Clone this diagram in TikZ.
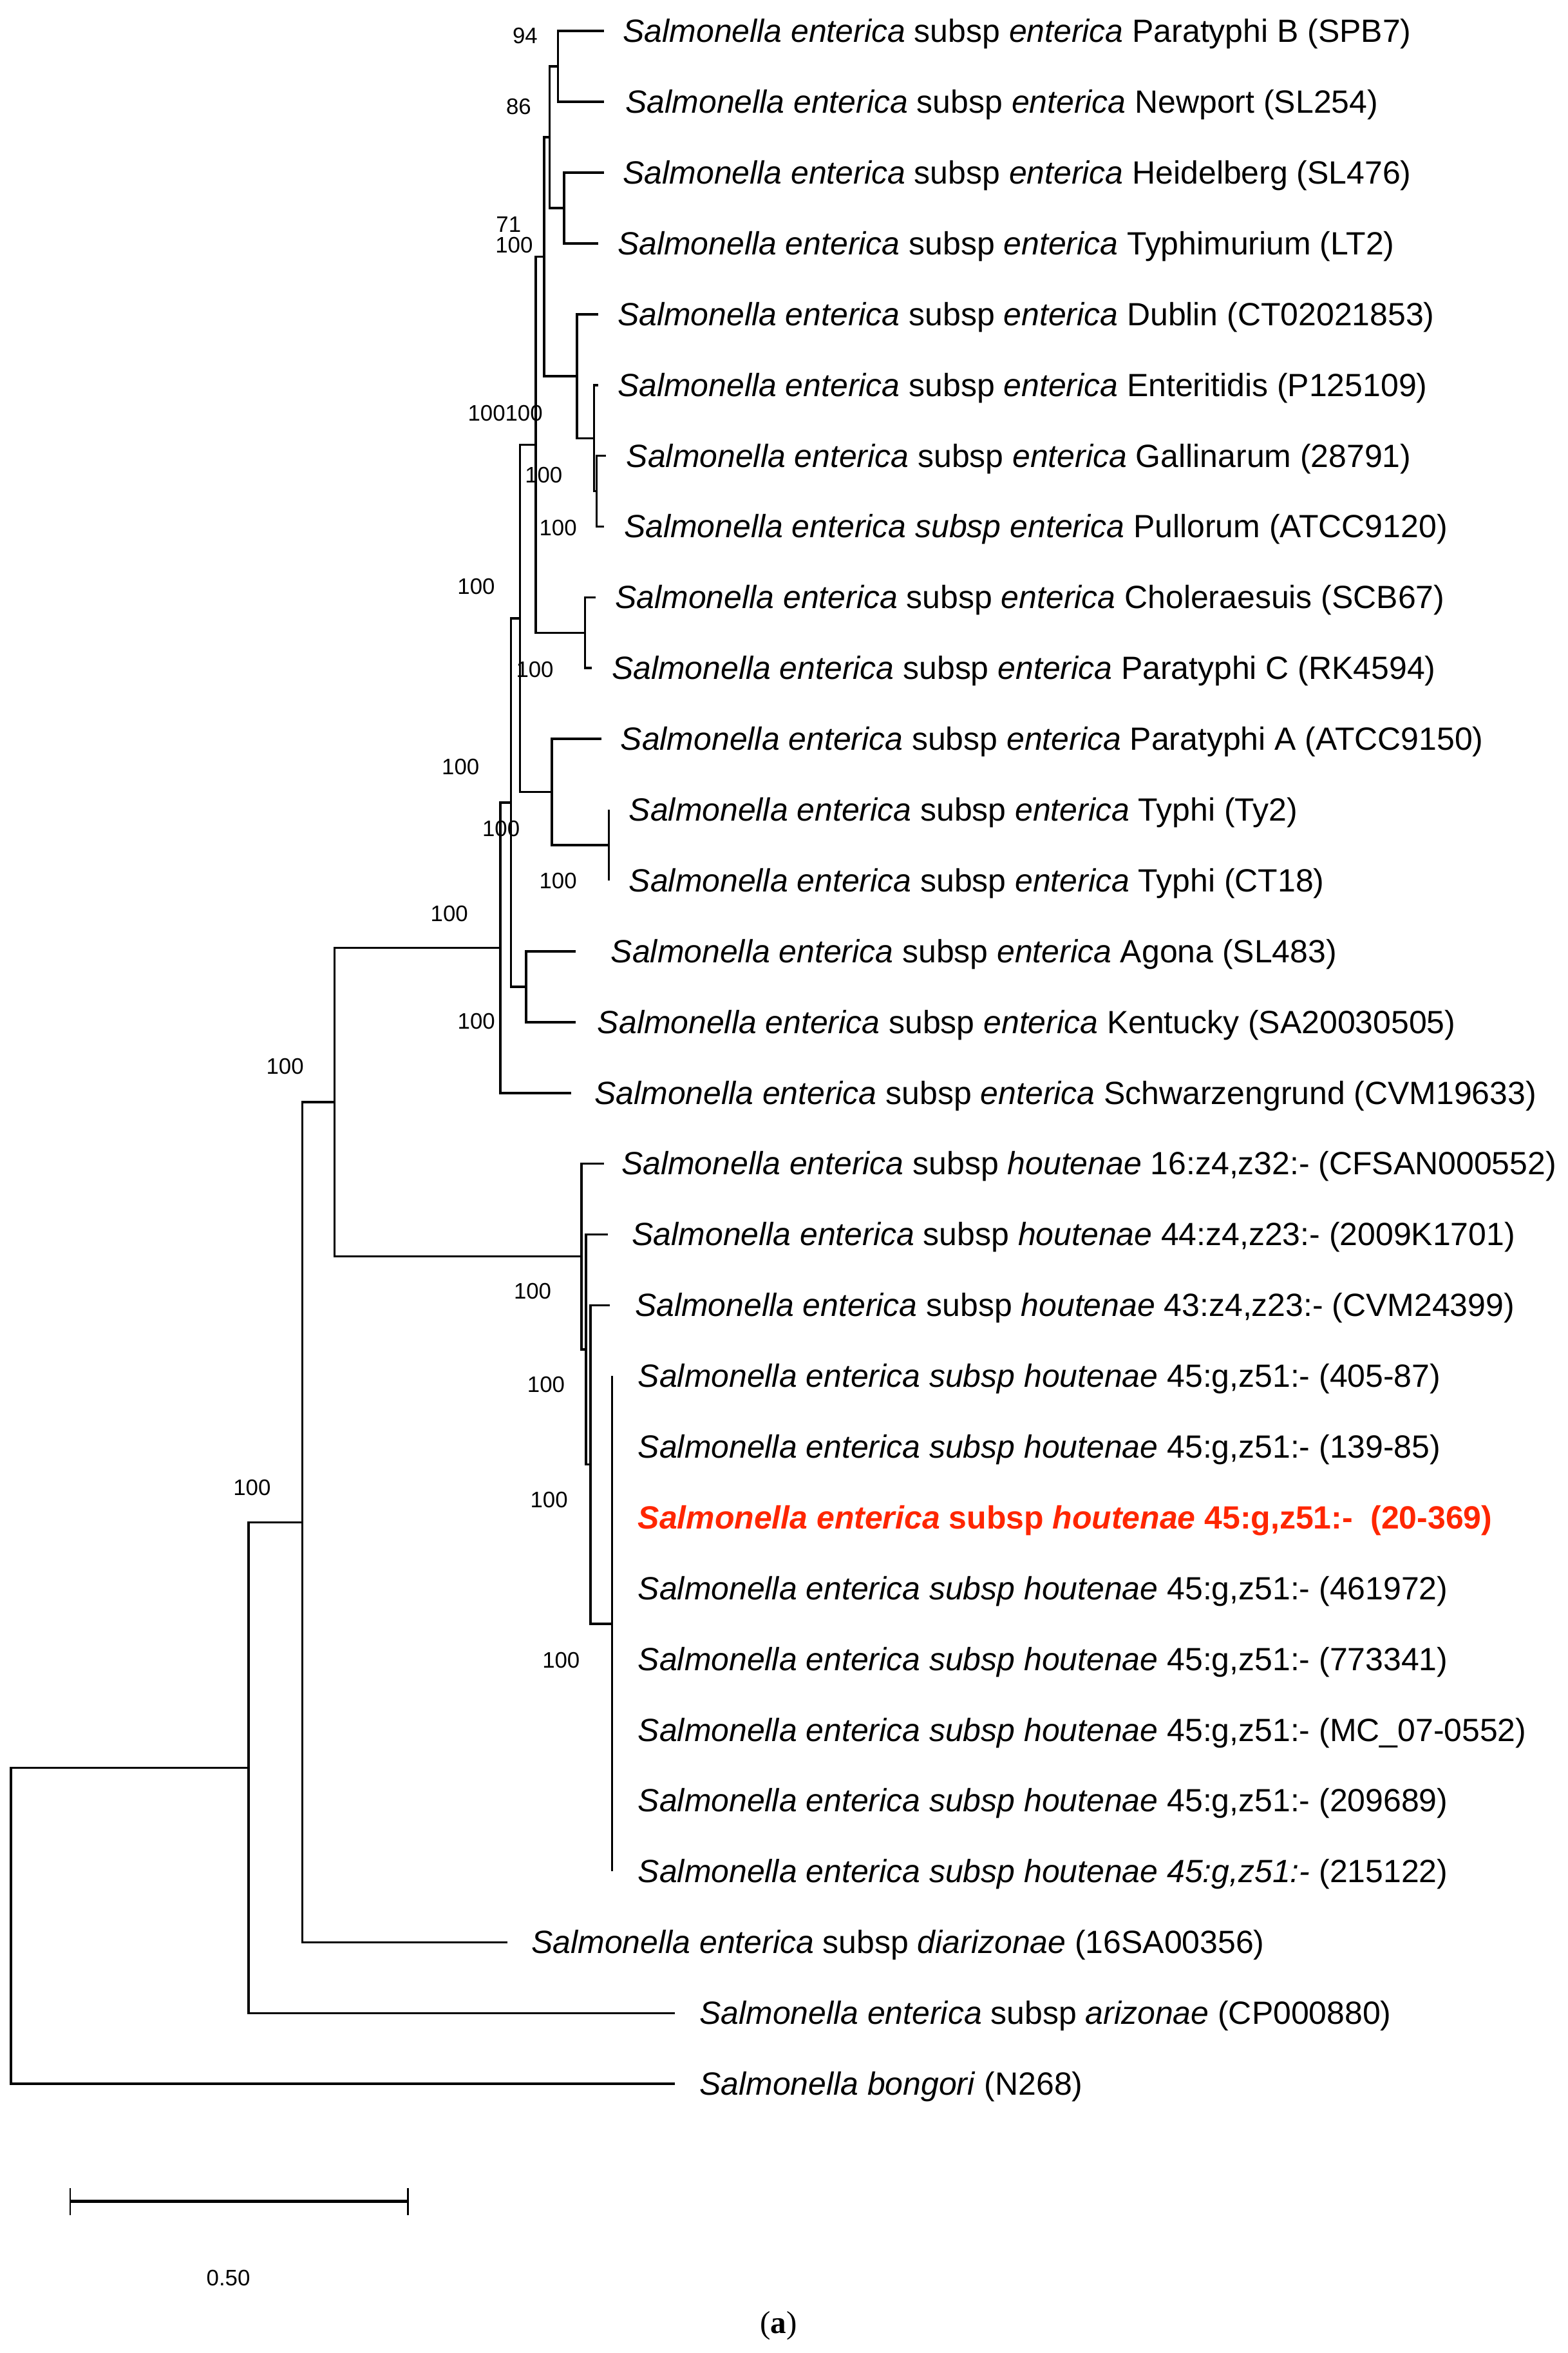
\documentclass[tikz,border=0pt]{standalone}
\usepackage{fontspec}
\setmainfont{Liberation Sans}
\newfontfamily\capserif{Liberation Serif}
\definecolor{hred}{RGB}{255,38,0}
\newcommand{\lfs}{\fontsize{14.2}{17}\selectfont}
\newcommand{\bfsz}{\fontsize{9.9}{12}\selectfont}
\newcommand{\Sent}{\textit{Salmonella enterica}}
\tikzset{
  branch/.style={line width=1.0pt},
  leaf/.style={anchor=base west, inner sep=0pt, font=\lfs},
  boot/.style={inner sep=0pt, font=\bfsz},
}
\begin{document}
\begin{tikzpicture}[x=0.02329cm, y=-0.02329cm]
\useasboundingbox (0,0) rectangle (1045,1568);
% ---------- internal nodes ----------
\coordinate (R)   at (7.4,1283.3);
\coordinate (nA)  at (165.6,1178);
\coordinate (nB)  at (201.6,1014.4);
\coordinate (nC)  at (223,734.5);
\coordinate (nS)  at (333.5,631.6);
\coordinate (nT)  at (340.6,534.8);
\coordinate (nAK) at (350.7,657.5);
\coordinate (nU)  at (346.7,412.1);
\coordinate (nPA) at (367.8,527.8);
\coordinate (nTy) at (405.8,563.2);
\coordinate (nV)  at (357.2,296.4);
\coordinate (nCP) at (390,421.7);
\coordinate (nW)  at (362.8,171.1);
\coordinate (nX)  at (366.4,91.5);
\coordinate (n94) at (372,44.3);
\coordinate (nHT) at (376,138.6);
\coordinate (nDE) at (384.5,250.7);
\coordinate (nE)  at (396,292);
\coordinate (nGP) at (397.6,327.3);
\coordinate (H0)  at (387.5,837.3);
\coordinate (H1)  at (390.7,899.3);
\coordinate (H2)  at (393.6,975.9);
\coordinate (H3)  at (407.9,1082);
% ---------- leaf tips ----------
\coordinate (t0)  at (402.6,20.7);
\coordinate (t1)  at (402.6,67.9);
\coordinate (t2)  at (402.6,115.0);
\coordinate (t3)  at (398.6,162.2);
\coordinate (t4)  at (398.6,209.4);
\coordinate (t5)  at (398.6,256.6);
\coordinate (t6)  at (404,303.7);
\coordinate (t7)  at (402.5,350.9);
\coordinate (t8)  at (397,398.1);
\coordinate (t9)  at (394.3,445.2);
\coordinate (t10) at (400.7,492.4);
\coordinate (t11) at (405.8,539.6);
\coordinate (t12) at (405.8,586.7);
\coordinate (t13) at (383.6,633.9);
\coordinate (t14) at (383.6,681.1);
\coordinate (t15) at (380.7,728.3);
\coordinate (t16) at (402.8,775.4);
\coordinate (t17) at (405,822.6);
\coordinate (t18) at (406.5,869.8);
\coordinate (t19) at (407.9,916.9);
\coordinate (t20) at (407.9,964.1);
\coordinate (t21) at (407.9,1011.3);
\coordinate (t22) at (407.9,1058.4);
\coordinate (t23) at (407.9,1105.6);
\coordinate (t24) at (407.9,1152.8);
\coordinate (t25) at (407.9,1199.9);
\coordinate (t26) at (407.9,1247.1);
\coordinate (t27) at (338.2,1294.3);
\coordinate (t28) at (450,1341.5);
\coordinate (t29) at (450,1388.6);
% ---------- branches ----------
\draw[branch] (R) |- (nA);   \draw[branch] (R) |- (t29);
\draw[branch] (nA) |- (nB);  \draw[branch] (nA) |- (t28);
\draw[branch] (nB) |- (nC);  \draw[branch] (nB) |- (t27);
\draw[branch] (nC) |- (nS);  \draw[branch] (nC) |- (H0);
\draw[branch] (nS) |- (nT);  \draw[branch] (nS) |- (t15);
\draw[branch] (nT) |- (nU);  \draw[branch] (nT) |- (nAK);
\draw[branch] (nAK) |- (t13); \draw[branch] (nAK) |- (t14);
\draw[branch] (nU) |- (nV);  \draw[branch] (nU) |- (nPA);
\draw[branch] (nPA) |- (t10); \draw[branch] (nPA) |- (nTy);
\draw[branch] (nTy) |- (t11); \draw[branch] (nTy) |- (t12);
\draw[branch] (nV) |- (nW);  \draw[branch] (nV) |- (nCP);
\draw[branch] (nCP) |- (t8); \draw[branch] (nCP) |- (t9);
\draw[branch] (nW) |- (nX);  \draw[branch] (nW) |- (nDE);
\draw[branch] (nX) |- (n94); \draw[branch] (nX) |- (nHT);
\draw[branch] (n94) |- (t0); \draw[branch] (n94) |- (t1);
\draw[branch] (nHT) |- (t2); \draw[branch] (nHT) |- (t3);
\draw[branch] (nDE) |- (t4); \draw[branch] (nDE) |- (nE);
\draw[branch] (nE) |- (t5);  \draw[branch] (nE) |- (nGP);
\draw[branch] (nGP) |- (t6); \draw[branch] (nGP) |- (t7);
\draw[branch] (H0) |- (t16); \draw[branch] (H0) |- (H1);
\draw[branch] (H1) |- (t17); \draw[branch] (H1) |- (H2);
\draw[branch] (H2) |- (t18); \draw[branch] (H2) |- (H3);
\foreach \k in {19,...,26} { \draw[branch] (H3) |- (t\k); }
% ---------- leaf labels ----------
\node[leaf] (L0)  at (415,28.2)   {\Sent\ subsp \textit{enterica} Paratyphi B (SPB7)};
\node[leaf] (L1)  at (416.7,75.4) {\Sent\ subsp \textit{enterica} Newport (SL254)};
\node[leaf] (L2)  at (415,122.5)  {\Sent\ subsp \textit{enterica} Heidelberg (SL476)};
\node[leaf] (L3)  at (411.4,169.7){\Sent\ subsp \textit{enterica} Typhimurium (LT2)};
\node[leaf] (L4)  at (411.4,216.9){\Sent\ subsp \textit{enterica} Dublin (CT02021853)};
\node[leaf] (L5)  at (411.4,264.1){\Sent\ subsp \textit{enterica} Enteritidis (P125109)};
\node[leaf] (L6)  at (417.3,311.2){\Sent\ subsp \textit{enterica} Gallinarum (28791)};
\node[leaf] (L7)  at (415.7,358.4){\textit{Salmonella enterica subsp enterica} Pullorum (ATCC9120)};
\node[leaf] (L8)  at (409.8,405.6){\Sent\ subsp \textit{enterica} Choleraesuis (SCB67)};
\node[leaf] (L9)  at (407.5,452.7){\Sent\ subsp \textit{enterica} Paratyphi C (RK4594)};
\node[leaf] (L10) at (413.4,499.9){\Sent\ subsp \textit{enterica} Paratyphi A (ATCC9150)};
\node[leaf] (L11) at (419,547.1)  {\Sent\ subsp \textit{enterica} Typhi (Ty2)};
\node[leaf] (L12) at (419,594.2)  {\Sent\ subsp \textit{enterica} Typhi (CT18)};
\node[leaf] (L13) at (407,641.4)  {\Sent\ subsp \textit{enterica} Agona (SL483)};
\node[leaf] (L14) at (398,688.6)  {\Sent\ subsp \textit{enterica} Kentucky (SA20030505)};
\node[leaf] (L15) at (396,735.8)  {\Sent\ subsp \textit{enterica} Schwarzengrund (CVM19633)};
\node[leaf] (L16) at (414,782.9)  {\Sent\ subsp \textit{houtenae} 16:z4,z32:- (CFSAN000552)};
\node[leaf] (L17) at (421,830.1)  {\Sent\ subsp \textit{houtenae} 44:z4,z23:- (2009K1701)};
\node[leaf] (L18) at (423,877.3)  {\Sent\ subsp \textit{houtenae} 43:z4,z23:- (CVM24399)};
\node[leaf] (L19) at (425,924.4)  {\textit{Salmonella enterica subsp houtenae} 45:g,z51:- (405-87)};
\node[leaf] (L20) at (425,971.6)  {\textit{Salmonella enterica subsp houtenae} 45:g,z51:- (139-85)};
\node[leaf, text=hred] (L21) at (425,1018.8) {\bfseries\textit{Salmonella enterica} subsp \textit{houtenae} 45:g,z51:-\ \ (20-369)};
\node[leaf] (L22) at (425,1065.9) {\textit{Salmonella enterica subsp houtenae} 45:g,z51:- (461972)};
\node[leaf] (L23) at (425,1113.1) {\textit{Salmonella enterica subsp houtenae} 45:g,z51:- (773341)};
\node[leaf] (L24) at (425,1160.3) {\textit{Salmonella enterica subsp houtenae} 45:g,z51:- (MC\_07-0552)};
\node[leaf] (L25) at (425,1207.4) {\textit{Salmonella enterica subsp houtenae} 45:g,z51:- (209689)};
\node[leaf] (L26) at (425,1254.6) {\textit{Salmonella enterica subsp houtenae 45:g,z51:-} (215122)};
\node[leaf] (L27) at (354,1301.8) {\Sent\ subsp \textit{diarizonae} (16SA00356)};
\node[leaf] (L28) at (466,1349)   {\Sent\ subsp \textit{arizonae} (CP000880)};
\node[leaf] (L29) at (466,1396.1) {\textit{Salmonella bongori} (N268)};
% ---------- bootstrap values ----------
\node[boot] (b1)  at (350,24)     {94};
\node[boot] (b2)  at (345.7,71)   {86};
\node[boot] (b3)  at (339,149.5)  {71};
\node[boot] (b4)  at (342.7,163.3){100};
\node[boot] (b5)  at (336.8,275.4){100100};
\node[boot] (b6)  at (362.4,316.4){100};
\node[boot] (b7)  at (372,351.6)  {100};
\node[boot] (b8)  at (317.4,391)  {100};
\node[boot] (b9)  at (356.5,446)  {100};
\node[boot] (b10) at (307,511)    {100};
\node[boot] (b11) at (334,552)    {100};
\node[boot] (b12) at (372,587)    {100};
\node[boot] (b13) at (299.5,609)  {100};
\node[boot] (b14) at (317.5,680.7){100};
\node[boot] (b15) at (190,710.5)  {100};
\node[boot] (b16) at (355,860.4)  {100};
\node[boot] (b17) at (364,922.7)  {100};
\node[boot] (b18) at (366,999.5)  {100};
\node[boot] (b19) at (374,1106.5) {100};
\node[boot] (b20) at (168,991.3)  {100};
% ---------- scale bar ----------
\coordinate (sbL) at (46.8,1467);
\coordinate (sbR) at (272,1467);
\draw[line width=1.5pt] (sbL) -- (sbR);
\draw[line width=0.8pt] (sbL) ++(0,-9) -- ++(0,18);
\draw[line width=0.8pt] (sbR) ++(0,-9) -- ++(0,18);
\node[boot] (sbT) at (152.2,1518) {0.50};
\node[inner sep=0pt, font=\capserif\fontsize{14}{16}\selectfont] (cap) at (519,1550) {(\textbf{a})};
\end{tikzpicture}
\end{document}
